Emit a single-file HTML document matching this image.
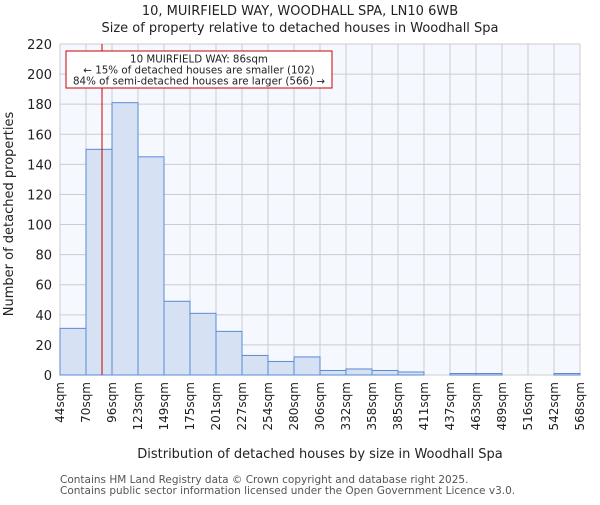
<!DOCTYPE html>
<html><head><meta charset="utf-8"><style>body{margin:0;background:#fff}svg{font-family:"DejaVu Sans","Liberation Sans",sans-serif}</style></head>
<body>
<svg id="c" width="600" height="500"></svg>
<script>
const categories=["44sqm","70sqm","96sqm","123sqm","149sqm","175sqm","201sqm","227sqm","254sqm","280sqm","306sqm","332sqm","358sqm","385sqm","411sqm","437sqm","463sqm","489sqm","516sqm","542sqm","568sqm"];
const counts=[31,150,181,145,49,41,29,13,9,12,3,4,3,2,0,1,1,0,0,1];
const yTicks=[0,20,40,60,80,100,120,140,160,180,200,220];
const binEdges=[44,70,96,123,149,175,201,227,254,280,306,332,358,385,411,437,463,489,516,542,568];
const propertySize=86;
const L=60,R=580,T=44,B=375,yMax=220;
const svg=document.getElementById('c');const NS='http://www.w3.org/2000/svg';
function add(tag,attrs,parent,text){const e=document.createElementNS(NS,tag);for(const k in attrs)e.setAttribute(k,attrs[k]);if(text!==undefined)e.textContent=text;(parent||svg).appendChild(e);return e;}
const nb=counts.length,bw=(R-L)/nb;
const xIdx=i=>L+i*bw;
const y=v=>B-v/yMax*(B-T);
const xVal=v=>{for(let i=0;i<binEdges.length-1;i++){if(v>=binEdges[i]&&v<=binEdges[i+1])return xIdx(i)+(v-binEdges[i])/(binEdges[i+1]-binEdges[i])*bw;}return L;};
let bg=add('rect',{x:L,y:T,width:R-L,height:B-T,fill:'#f5f8fe'});

const grid=add('g',{stroke:'#cccccc','stroke-width':1});

for(let i=0;i<=nb;i++)add('line',{x1:xIdx(i),x2:xIdx(i),y1:T,y2:B},grid);
yTicks.forEach(t=>add('line',{x1:L,x2:R,y1:y(t),y2:y(t)},grid));
counts.forEach((v,i)=>{const r=add('rect',{x:xIdx(i),y:y(v),width:bw,height:B-y(v),fill:'#d6e1f4',stroke:'#5a8ad4','stroke-width':1});
});
yTicks.forEach(t=>{const e=add('text',{x:L-8,y:y(t)+5,'text-anchor':'end','font-size':13,fill:'#222'},null,t);
});
categories.forEach((c,i)=>{const xx=xIdx(i)+4;const e=add('text',{x:xx,y:382,'text-anchor':'end','font-size':12,fill:'#222',transform:`rotate(-90 ${xx} 382)`},null,c);
});
const px=xVal(propertySize);
let ml=add('line',{x1:px,x2:px,y1:T,y2:B,stroke:'#cc0000','stroke-width':1});

const ag=add('g',{});
add('rect',{x:66,y:51,width:266,height:37,fill:'#fff',stroke:'#cc0000','stroke-width':1},ag);
['10 MUIRFIELD WAY: 86sqm','← 15% of detached houses are smaller (102)','84% of semi-detached houses are larger (566) →'].forEach((s,i)=>add('text',{x:199,y:62.5+i*11,'text-anchor':'middle','font-size':10.3,fill:'#222'},ag,s));
let t1=add('text',{x:300,y:15,'text-anchor':'middle','font-size':13,fill:'#222'},null,'10, MUIRFIELD WAY, WOODHALL SPA, LN10 6WB');

let t2=add('text',{x:300,y:32,'text-anchor':'middle','font-size':13,fill:'#222'},null,'Size of property relative to detached houses in Woodhall Spa');

let xt=add('text',{x:320,y:458,'text-anchor':'middle','font-size':13,fill:'#222'},null,'Distribution of detached houses by size in Woodhall Spa');

let yt=add('text',{x:13,y:214,'text-anchor':'middle','font-size':13,fill:'#222',transform:'rotate(-90 13 214)'},null,'Number of detached properties');

let f1=add('text',{x:60,y:483,'font-size':10.5,fill:'#555'},null,'Contains HM Land Registry data © Crown copyright and database right 2025.');

let f2=add('text',{x:60,y:494,'font-size':10.5,fill:'#555'},null,'Contains public sector information licensed under the Open Government Licence v3.0.');

</script>
</body></html>
